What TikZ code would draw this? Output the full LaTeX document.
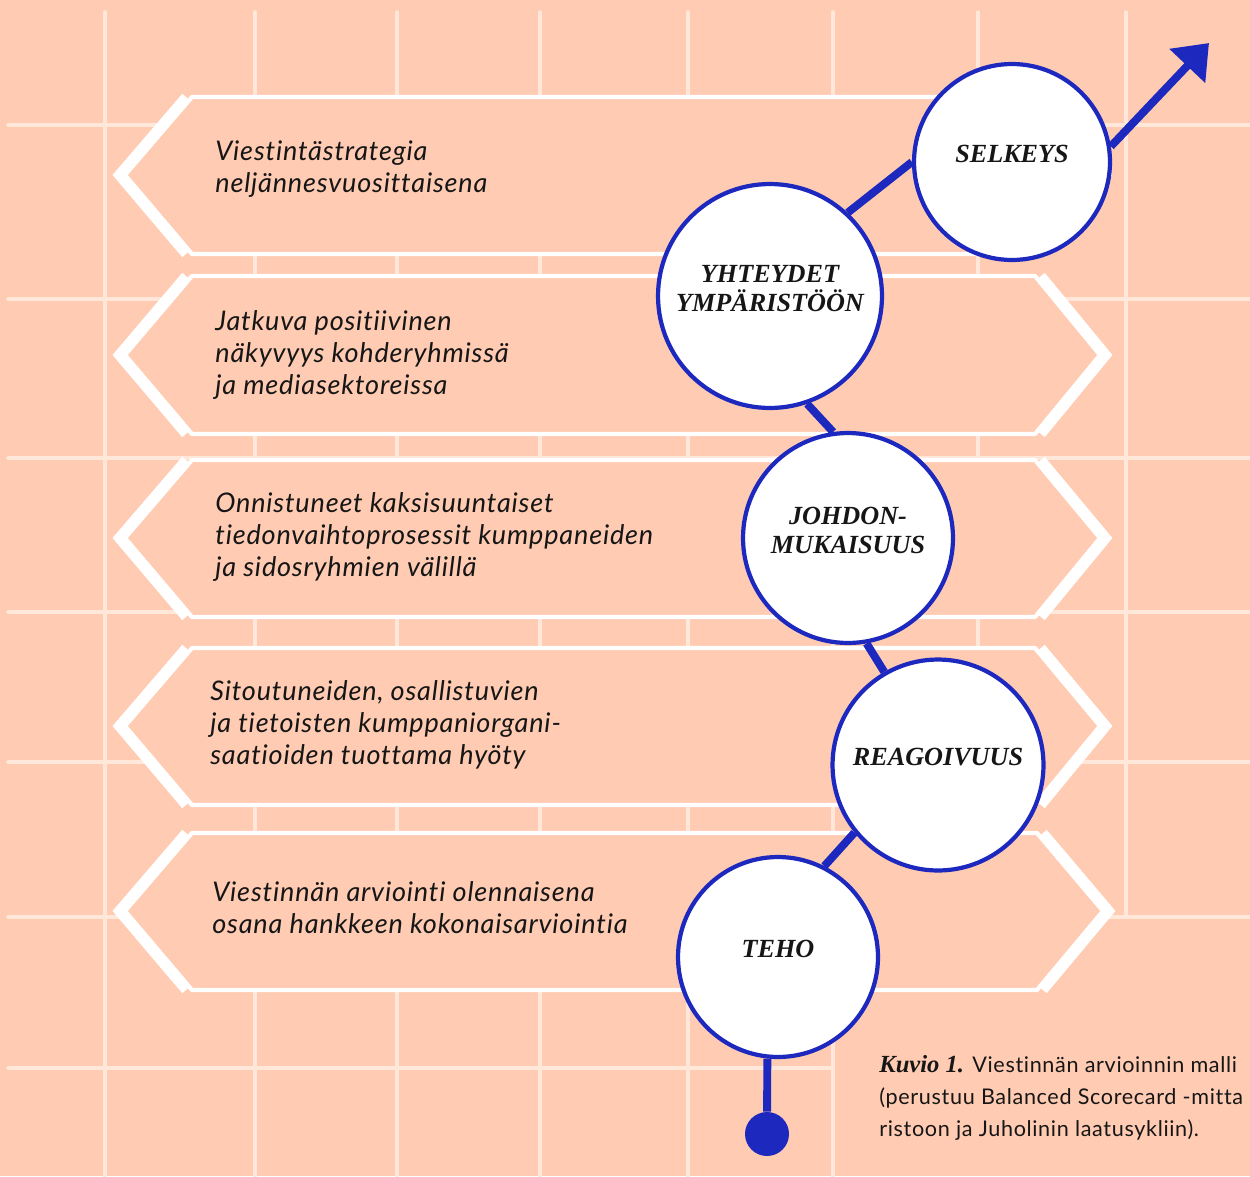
\documentclass[tikz,border=0pt]{standalone}
\usepackage{fontspec}
\setmainfont{Lato}[LetterSpace=3, Ligatures=NoCommon]
\newfontfamily\stagefont{Liberation Serif}
\usetikzlibrary{arrows.meta, positioning}
\definecolor{peach}{HTML}{FFCBB2}
\definecolor{gridpeach}{HTML}{FFE7DA}
\definecolor{stageblue}{HTML}{1C28BE}
\definecolor{inkblack}{HTML}{161616}

\begin{document}
\begin{tikzpicture}[x=0.02cm, y=-0.02cm, >={Triangle[length=18pt, width=27pt]},
    gridline/.style={gridpeach, line width=2pt, line cap=round},
    band/.style={draw=white, fill=peach, line width=2.4pt, line join=bevel},
    bandedge/.style={white, line width=5.6pt},
    bandtext/.style={anchor=west, align=left, text=inkblack, inner sep=0pt,
        font=\itshape\fontsize{15.4}{18.1}\selectfont},
    stage/.style={circle, draw=stageblue, fill=white, line width=2.4pt,
        inner sep=0pt, align=center, text=inkblack, text depth=9pt,
        font=\stagefont\bfseries\itshape\fontsize{14.9}{16.4}\selectfont},
    link/.style={stageblue, line width=4.5pt}]

    % page size and the pale grid behind everything
    \useasboundingbox (0,0) rectangle (1250,1176);
    \clip (0,0) rectangle (1250,1176);
    \fill[peach] (0,0) rectangle (1250,1176);
    \draw[gridline] (105,12) -- (105,1176) (255,12) -- (255,1176) (397,12) -- (397,1176)
        (540,12) -- (540,1176) (688,12) -- (688,1176) (833,12) -- (833,1176)
        (978,12) -- (978,917) (1126,12) -- (1126,917);
    \draw[gridline] (8,125) -- (1250,125) (8,299) -- (1250,299) (8,458) -- (1250,458)
        (8,612) -- (1250,612) (8,762) -- (1250,762) (8,917) -- (1250,917)
        (8,1068) -- (833,1068);

    % the five bands, thick white chevrons on both ends
    \draw[band] (192,97) -- (1035,97) -- (1100,175) -- (1035,254) -- (192,254) -- (125,175) -- cycle;
    \draw[bandedge] (186,97) -- (119,175) -- (186,254);
    \draw[bandedge] (1041,97) -- (1106,175) -- (1041,254);

    \draw[band] (192,276) -- (1035,276) -- (1100,355) -- (1035,434) -- (192,434) -- (125,355) -- cycle;
    \draw[bandedge] (186,276) -- (119,355) -- (186,434);
    \draw[bandedge] (1041,276) -- (1106,355) -- (1041,434);

    \draw[band] (192,460) -- (1035,460) -- (1100,538) -- (1035,617) -- (192,617) -- (125,538) -- cycle;
    \draw[bandedge] (186,460) -- (119,538) -- (186,617);
    \draw[bandedge] (1041,460) -- (1106,538) -- (1041,617);

    \draw[band] (192,648) -- (1035,648) -- (1100,726) -- (1035,805) -- (192,805) -- (125,726) -- cycle;
    \draw[bandedge] (186,648) -- (119,726) -- (186,805);
    \draw[bandedge] (1041,648) -- (1106,726) -- (1041,805);

    \draw[band] (192,833) -- (1037,833) -- (1103,911) -- (1037,990) -- (192,990) -- (125,911) -- cycle;
    \draw[bandedge] (186,833) -- (119,911) -- (186,990);
    \draw[bandedge] (1043,833) -- (1109,911) -- (1043,990);

    % texts in the bands
    \node[bandtext] (aim1) at (215,169) {Viestintästrategia\\neljännesvuosittaisena};
    \node[bandtext] (aim2) at (215,355) {Jatkuva positiivinen\\näkyvyys kohderyhmissä\\ja mediasektoreissa};
    \node[bandtext] (aim3) at (215,537) {Onnistuneet kaksisuuntaiset\\tiedonvaihtoprosessit kumppaneiden\\ja sidosryhmien välillä};
    \node[bandtext] (aim4) at (210,725) {Sitoutuneiden, osallistuvien\\ja tietoisten kumppaniorgani-\\saatioiden tuottama hyöty};
    \node[bandtext] (aim5) at (212,908) {Viestinnän arviointi olennaisena\\osana hankkeen kokonaisarviointia};

    % the stages
    \node[stage, minimum size=3.92cm] (selkeys) at (1012,162) {SELKEYS};
    \node[stage, minimum size=4.48cm] (yhteydet) at (770,296) {YHTEYDET\\YMPÄRISTÖÖN};
    \node[stage, minimum size=4.2cm] (johdon) at (848,538) {JOHDON-\\MUKAISUUS};
    \node[stage, minimum size=4.22cm] (reagoi) at (938,765) {REAGOIVUUS};
    \node[stage, minimum size=4cm] (teho) at (778,957) {TEHO};

    \node[circle, fill=stageblue, minimum size=0.88cm, inner sep=0pt] (start) at (767,1134) {};
    \coordinate (tip) at (1209,43);

    % blue path from the dot up to the arrow
    \draw[link] (teho.-96) -- (start);
    \draw[link] (teho.63) -- (reagoi.-141);
    \draw[link] (reagoi.120) -- (johdon.-80);
    \draw[link] (johdon.98) -- (yhteydet.-71);
    \draw[link] (yhteydet.47) -- (selkeys.180);
    \draw[link, ->] (selkeys.9) -- (tip);

    % caption
    \node[anchor=west, align=left, inner sep=0pt, text=inkblack,
        font=\fontsize{12.3}{18.1}\selectfont] (caption) at (879,1098)
        {{\stagefont\bfseries\itshape\fontsize{14}{18.1}\selectfont Kuvio 1.} Viestinnän arvioinnin malli\\(perustuu Balanced Scorecard -mitta\\ristoon ja Juholinin laatusykliin).};
\end{tikzpicture}
\end{document}
